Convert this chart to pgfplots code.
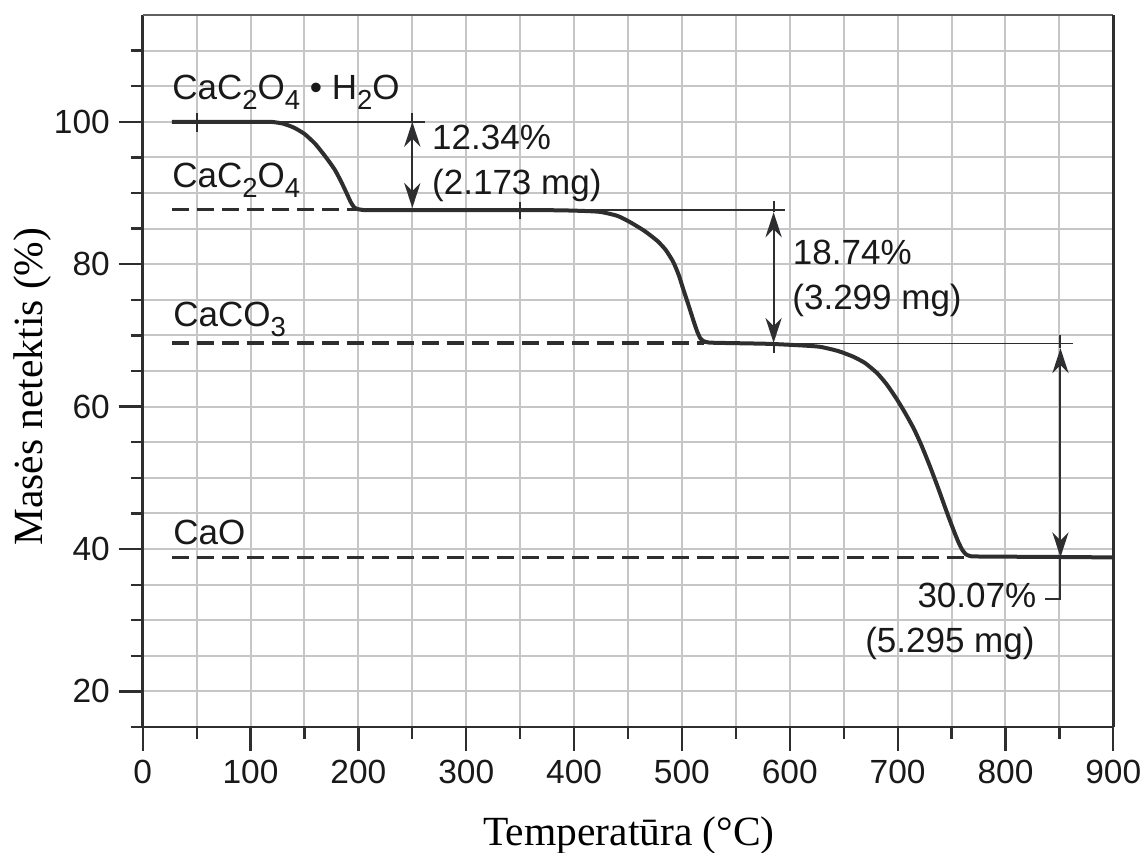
\documentclass[border=0pt]{standalone}
\usepackage{fontspec}
\setmainfont{Liberation Sans}
\newfontfamily\serif{Liberation Serif}
\usepackage{pgfplots}
\pgfplotsset{compat=1.18}
\usetikzlibrary{arrows.meta,calc}
\definecolor{ink}{HTML}{2E2E30}
\definecolor{gridc}{HTML}{C6C6C6}
\newcommand\sub[1]{\raisebox{-4pt}{\fontsize{11}{11}\selectfont #1}}
\newcommand\annot{\fontsize{14}{16}\selectfont}
\newcommand\lab{\serif\fontsize{16.6}{18}\selectfont}
\begin{document}
\begin{tikzpicture}
\begin{axis}[
  name=ax,
  scale only axis, width=388.24pt, height=284.8pt,
  xmin=0, xmax=900, ymin=15, ymax=115,
  axis x line*=bottom, axis y line*=left,
  axis line style={ink, line width=1.1pt},
  xtick={0,100,...,900},
  minor xtick={50,150,250,350,450,550,650,750,850},
  ytick={20,40,60,80,100},
  minor ytick={15,25,30,35,45,50,55,65,70,75,85,90,95,105,110},
  grid=both,
  major grid style={gridc, line width=0.8pt},
  minor grid style={gridc, line width=0.8pt},
  tick align=outside,
  major tick length=9.6pt, minor tick length=4.8pt,
  tick style={ink, line width=0.9pt},
  /pgf/number format/assume math mode=true,
  ticklabel style={font=\fontsize{13.4}{14}\selectfont, text=black!90},
  clip=false,
]
% frame top and right
\draw[gray!75!black, line width=0.8pt] (rel axis cs:0,1) -- (rel axis cs:1,1);
\draw[ink, line width=1pt] (rel axis cs:1,0) -- (rel axis cs:1,1);

% reference dashed lines
\addplot[ink, line width=1.3pt, dash pattern=on 6.8pt off 3.2pt] coordinates {(27,87.66) (200,87.66)};
\addplot[ink, line width=1.3pt, dash pattern=on 6.8pt off 3.2pt] coordinates {(27,68.92) (520,68.92)};
\addplot[ink, line width=1.3pt, dash pattern=on 6.8pt off 3.2pt] coordinates {(27,38.85) (765,38.85)};
% thin reference lines
\addplot[ink, line width=0.7pt] coordinates {(27,100) (262,100)};
\addplot[ink, line width=0.7pt] coordinates {(200,87.66) (596,87.66)};
\addplot[ink, line width=0.7pt] coordinates {(520,68.85) (863,68.85)};

% TGA curve
\addplot[ink, line width=1.6pt, line join=round, smooth, tension=0.35] coordinates {
(27,100) (110,100) (120,99.98) (130,99.75) (140,99.2) (150,98.3) (160,96.9)
(170,95.0) (178,93.3) (184,91.6) (189,90.0) (193,88.7) (196,88.0) (199,87.75)
(203,87.65) (210,87.6) (300,87.6) (380,87.58) (405,87.5) (424,87.35)
(440,86.8) (452,85.9) (465,84.7) (477,83.3) (485,82.0) (492,80.3) (497,78.5)
(501,76.6) (506,74.3) (510,72.4) (514,70.6) (517,69.6) (520,69.2) (525,69.0)
(535,68.95) (580,68.82) (610,68.6) (628,68.4) (645,67.8) (659,67.0) (670,66.1)
(681,64.7) (690,63.1) (699,61.1) (707,59.1) (715,56.9) (722,54.6) (730,51.6)
(737,48.8) (742,46.7) (747,44.6) (752,42.6) (756,41.1) (759.5,40.0) (763,39.3)
(767,39.02) (775,38.95) (850,38.88) (900,38.82)};

% small tick marks on lines
\draw[ink, line width=0.7pt] (axis cs:50,98.6) -- (axis cs:50,101.3);
\draw[ink, line width=0.7pt] (axis cs:350,86.3) -- (axis cs:350,88.8);

% arrows
\tikzset{arr/.style={ink, line width=0.8pt}}
\draw[arr] (axis cs:250,101.3) -- (axis cs:250,100);
\draw[arr, {Stealth[length=10pt,width=6.5pt]}-{Stealth[length=10pt,width=6.5pt]}] (axis cs:250,100) -- (axis cs:250,87.9);
\draw[arr] (axis cs:585,88.85) -- (axis cs:585,87.3);
\draw[arr, {Stealth[length=10pt,width=6.5pt]}-{Stealth[length=10pt,width=6.5pt]}] (axis cs:585,87.3) -- (axis cs:585,68.95);
\draw[arr] (axis cs:585,68.95) -- (axis cs:585,67.55);
\draw[arr] (axis cs:851,70.1) -- (axis cs:851,68.2);
\draw[arr, {Stealth[length=10pt,width=6.5pt]}-{Stealth[length=10pt,width=6.5pt]}] (axis cs:851,68.2) -- (axis cs:851,38.85);
\draw[arr] (axis cs:851,38.85) -- (axis cs:851,32.98) -- (axis cs:837,32.98);

% annotation texts
\begin{scope}[every node/.style={inner sep=0pt, font=\annot, text=black!90}]
\node[anchor=base west] at (axis cs:268,96.1) {12.34\%};
\node[anchor=base west] at (axis cs:268,89.8) {(2.173 mg)};
\node[anchor=base west] at (axis cs:602.5,79.95) {18.74\%};
\node[anchor=base west] at (axis cs:602,73.63) {(3.299 mg)};
\node[anchor=base east] at (axis cs:829,31.72) {30.07\%};
\node[anchor=base east] at (axis cs:827.4,25.4) {(5.295 mg)};
\node[anchor=base west] at (axis cs:27,103.12) {CaC\sub{2}O\sub{4} • H\sub{2}O};
\node[anchor=base west] at (axis cs:27,90.77) {CaC\sub{2}O\sub{4}};
\node[anchor=base west] at (axis cs:28,71.28) {CaCO\sub{3}};
\node[anchor=base west] at (axis cs:28,40.61) {CaO};
\end{scope}
% axis labels
\node[inner sep=0pt, rotate=90, anchor=base, font=\lab] at ($(axis cs:0,62.8)+(-40pt,0pt)$) {Masės netektis (\%)};
\node[inner sep=0pt, anchor=base, font=\lab] at ($(axis cs:451,15)+(0pt,-47.2pt)$) {Temperatūra (°C)};
\end{axis}
\pgfresetboundingbox
\path ($(ax.south west)+(-57.08pt,-50pt)$) rectangle ($(ax.north east)+(11.08pt,6pt)$);
\end{tikzpicture}
\end{document}
